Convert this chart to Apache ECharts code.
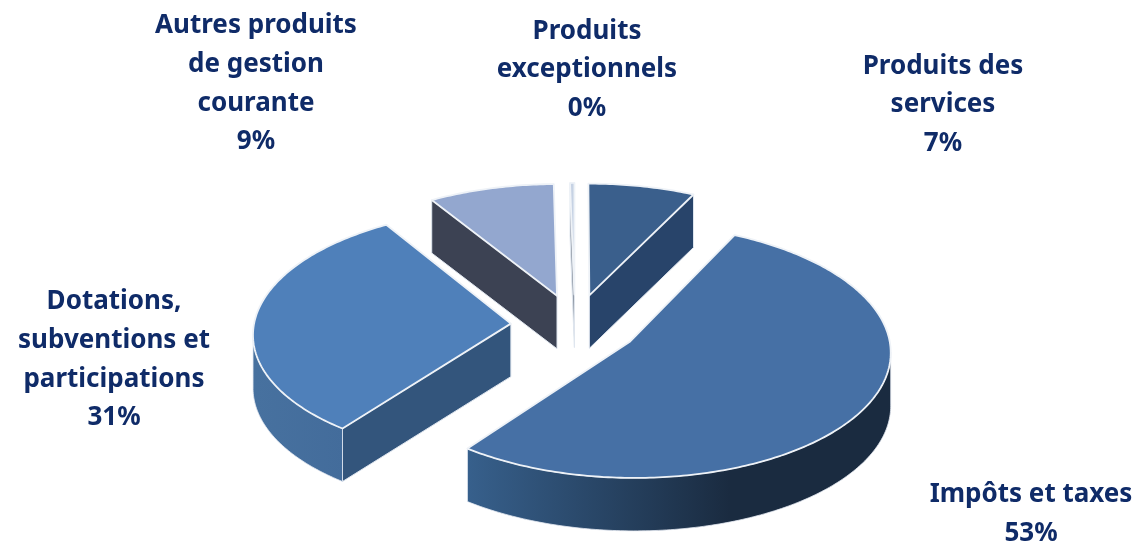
<!DOCTYPE html>
<html>
<head>
<meta charset="utf-8">
<style>html,body{margin:0;padding:0;background:#fff}#chart{width:1140px;height:543px}</style>
<script src="https://cdn.jsdelivr.net/npm/echarts@6/dist/echarts.min.js"></script>
</head>
<body>
<div id="chart"></div>
<script>
// Répartition des recettes, en pourcentage
const categories = ['Produits des\nservices', 'Impôts et taxes', 'Dotations,\nsubventions et\nparticipations', 'Autres produits\nde gestion\ncourante', 'Produits\nexceptionnels'];
const shares = [7.3, 53, 30.8, 8.6, 0.3];

// Slice colours: top face, flat side wall, rim wall gradient ends
const topColors = ['#3a5f8c', '#4670a5', '#4f80ba', '#93a7cf', '#c6d2e4'];
const sideColors = ['#28446a', '#24405f', '#33557c', '#3c4253', '#8a93a0'];
const rimColors = [['#28446a', '#28446a'], ['#37608c', '#1a2b40'], ['#47719f', '#436c9b'], ['#3c4253', '#3c4253'], ['#8a93a0', '#8a93a0']];
const rimRanges = [[0, 1140], [467, 730], [255, 345], [0, 1140], [0, 1140]];
const labelAnchors = [[943, 105], [1031, 514], [114, 360], [256, 84], [587, 70]];

// Tilted-disc projection
const CX = 575, CY = 325, RX = 257, RY = 124, PERSPECTIVE = 0.073, EXPLODE = 0.25, DEPTH = 53;
const total = shares.reduce((a, b) => a + b, 0);

function project(x, y, drop) {
  const s = 1 / (1 + PERSPECTIVE * y);
  return [CX + RX * x * s, CY - RY * y * s + (drop ? DEPTH : 0)];
}

function renderSlice(params, api) {
  const i = params.dataIndex;
  const value = api.value(0);
  const before = shares.slice(0, i).reduce((a, b) => a + b, 0);
  const a0 = before / total * 2 * Math.PI;
  const a1 = (before + value) / total * 2 * Math.PI;
  const mid = (a0 + a1) / 2;
  const ox = EXPLODE * Math.sin(mid), oy = EXPLODE * Math.cos(mid);
  const plane = (r, a) => [ox + r * Math.sin(a), oy + r * Math.cos(a)];
  const top = (r, a) => { const p = plane(r, a); return project(p[0], p[1], false); };
  const low = (r, a) => { const p = plane(r, a); return project(p[0], p[1], true); };

  const steps = Math.max(2, Math.ceil((a1 - a0) / 0.015));
  const angles = [];
  for (let k = 0; k <= steps; k++) angles.push(a0 + (a1 - a0) * k / steps);

  const children = [];
  const apex = top(0, a0), apexLow = low(0, a0), inner = top(0.5, mid);

  // Flat walls along the two radial cuts, only where they face the viewer
  [a0, a1].forEach(a => {
    const rim = top(1, a);
    if (Math.abs(rim[0] - apex[0]) < 2) return;
    const t = (inner[0] - apex[0]) / (rim[0] - apex[0]);
    const lineY = apex[1] + t * (rim[1] - apex[1]);
    if (lineY <= inner[1]) return;
    children.push({
      type: 'polygon',
      shape: { points: [apex, rim, low(1, a), apexLow] },
      style: { fill: sideColors[i], stroke: '#dfe6ef', lineWidth: 1 }
    });
  });

  // Curved outer wall, front-facing stretch only
  const front = [];
  for (let k = 0; k < angles.length; k++) {
    const cur = top(1, angles[k]);
    const nb = k < angles.length - 1 ? top(1, angles[k + 1]) : top(1, angles[k] + 0.01);
    if (nb[0] < cur[0]) front.push(angles[k]);
  }
  if (front.length > 1) {
    const up = front.map(a => top(1, a));
    const down = front.map(a => low(1, a)).reverse();
    children.push({
      type: 'polygon',
      shape: { points: up.concat(down) },
      style: {
        fill: new echarts.graphic.LinearGradient(rimRanges[i][1], 0, rimRanges[i][0], 0, [
          { offset: 0, color: rimColors[i][1] },
          { offset: 1, color: rimColors[i][0] }
        ], true),
        stroke: '#e3e9f1', lineWidth: 0.8
      }
    });
  }

  // Top face
  const face = [apex].concat(angles.map(a => top(1, a)));
  children.push({
    type: 'polygon',
    shape: { points: face },
    style: { fill: topColors[i], stroke: '#eef2f7', lineWidth: 1.8, lineJoin: 'round' }
  });

  // Category name and percentage
  children.push({
    type: 'text',
    style: {
      text: categories[i] + '\n' + Math.round(value) + '%',
      x: labelAnchors[i][0], y: labelAnchors[i][1],
      align: 'center', verticalAlign: 'middle',
      fontFamily: '"Noto Sans"', fontWeight: 'bold', fontSize: 26, lineHeight: 38.7,
      fill: '#0f2b68'
    }
  });

  return { type: 'group', children };
}

const chart = echarts.init(document.getElementById('chart'), null, { renderer: 'canvas' });
chart.setOption({
  animation: false,
  backgroundColor: '#ffffff',
  series: [{
    type: 'custom',
    coordinateSystem: 'none',
    renderItem: renderSlice,
    data: shares.map(v => [v])
  }]
});
</script>
</body>
</html>
